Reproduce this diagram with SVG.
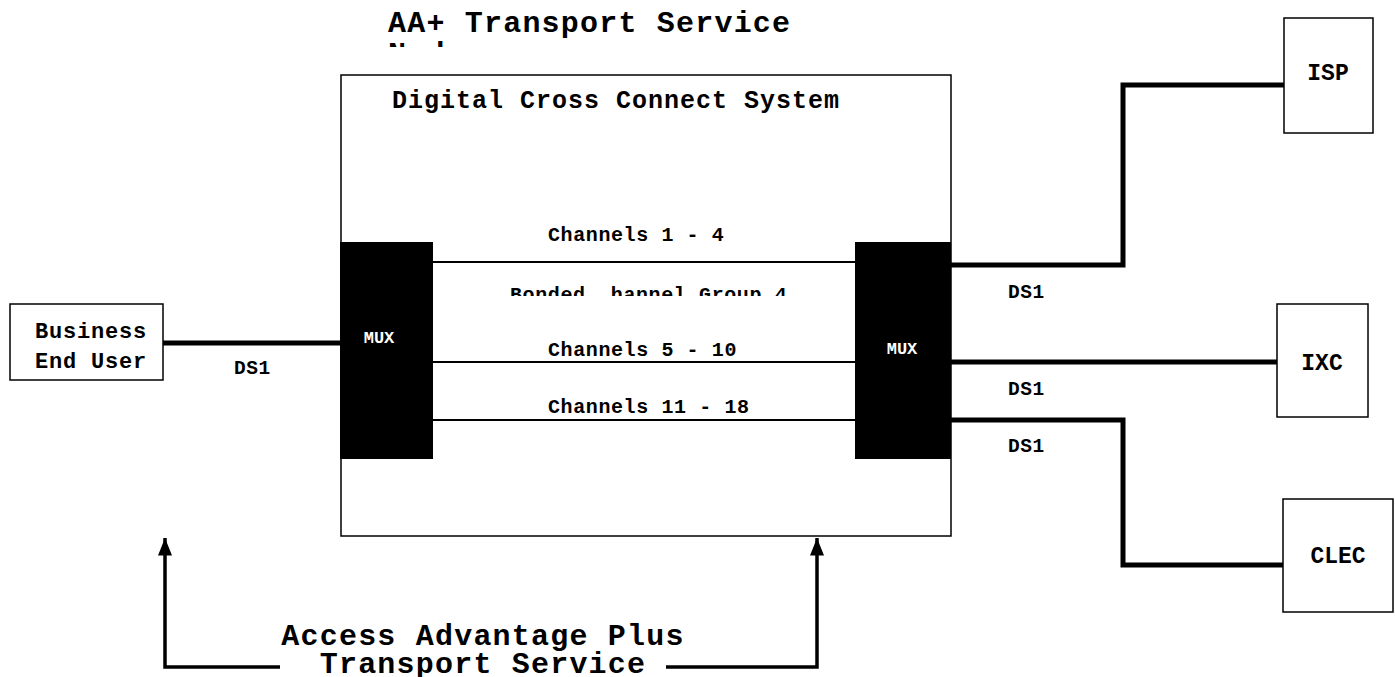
<svg xmlns="http://www.w3.org/2000/svg" width="1395" height="677" viewBox="0 0 1395 677">
<style>
text{font-family:"Liberation Mono","Courier New",monospace;font-weight:bold;fill:#000}
.box{fill:#fff;stroke:#000;stroke-width:1.5}
.mux{fill:#000;stroke:none}
.muxt{fill:#fff;font-size:17px;text-anchor:middle}
.thick{fill:none;stroke:#000;stroke-width:5;stroke-linejoin:miter}
.thin{fill:none;stroke:#000;stroke-width:2}
.arr{fill:none;stroke:#000;stroke-width:3.5}
.ch{font-size:20px;letter-spacing:0.6px}
.ds{font-size:19.5px;letter-spacing:0.6px}
.nt{font-size:23px;text-anchor:middle}
.big{font-size:30px;letter-spacing:1.2px}
</style>
<defs>
<clipPath id="clipTitle"><rect x="0" y="0" width="1395" height="47"/></clipPath>
<clipPath id="clipBond"><rect x="0" y="280" width="1395" height="16"/></clipPath>
<marker id="ah" viewBox="0 0 10 8" refX="10" refY="4" markerWidth="5" markerHeight="4" markerUnits="strokeWidth" orient="auto"><path d="M0,0 L10,4 L0,8 z" fill="#000"/></marker>
</defs>
<rect width="1395" height="677" fill="#fff"/>

<g id="title" clip-path="url(#clipTitle)">
<text class="big" x="388" y="32">AA+ Transport Service</text>
<text class="big" x="388" y="63">Node</text>
</g>

<g id="dcs">
<rect class="box" x="341" y="75" width="610" height="461"/>
<text x="392" y="108" style="font-size:25px;letter-spacing:1px">Digital Cross Connect System</text>
</g>

<g id="connectors">
<line class="thin" x1="433" y1="262" x2="855" y2="262"/>
<line class="thin" x1="433" y1="362" x2="855" y2="362"/>
<line class="thin" x1="433" y1="420" x2="855" y2="420"/>
<line class="thick" x1="163" y1="343" x2="340" y2="343"/>
<polyline class="thick" points="951,265 1123,265 1123,85 1284,85"/>
<line class="thick" x1="951" y1="362" x2="1277" y2="362"/>
<polyline class="thick" points="951,420 1123,420 1123,565 1283,565"/>
<polyline class="arr" points="280,667 165,667 165,538" marker-end="url(#ah)"/>
<polyline class="arr" points="666,667 817,667 817,538" marker-end="url(#ah)"/>
</g>

<g id="mux-left">
<rect class="mux" x="340" y="242" width="93" height="217"/>
<text class="muxt" x="379" y="343">MUX</text>
</g>
<g id="mux-right">
<rect class="mux" x="855" y="242" width="96" height="217"/>
<text class="muxt" x="902" y="354">MUX</text>
</g>

<g id="labels">
<text class="ch" x="548" y="241">Channels 1 - 4</text>
<g clip-path="url(#clipBond)"><text class="ch" x="510" y="301" xml:space="preserve">Bonded  hannel Group 4</text></g>
<text class="ch" x="548" y="356">Channels 5 - 10</text>
<text class="ch" x="548" y="413">Channels 11 - 18</text>
<text class="ds" x="234" y="374">DS1</text>
<text class="ds" x="1008" y="298">DS1</text>
<text class="ds" x="1008" y="395">DS1</text>
<text class="ds" x="1008" y="452">DS1</text>
</g>

<g id="business">
<rect class="box" x="10" y="304" width="153" height="76"/>
<text x="35" y="338" style="font-size:22px;letter-spacing:0.8px">Business</text>
<text x="35" y="368" style="font-size:22px;letter-spacing:0.8px">End User</text>
</g>

<g id="isp">
<rect class="box" x="1284" y="18" width="89" height="115"/>
<text class="nt" x="1328" y="80">ISP</text>
</g>
<g id="ixc">
<rect class="box" x="1277" y="304" width="91" height="113"/>
<text class="nt" x="1322" y="370">IXC</text>
</g>
<g id="clec">
<rect class="box" x="1283" y="499" width="110" height="113"/>
<text class="nt" x="1338" y="563">CLEC</text>
</g>

<g id="service-label">
<text class="big" x="483" y="645" text-anchor="middle">Access Advantage Plus</text>
<text class="big" x="483" y="673" text-anchor="middle">Transport Service</text>
</g>
</svg>
